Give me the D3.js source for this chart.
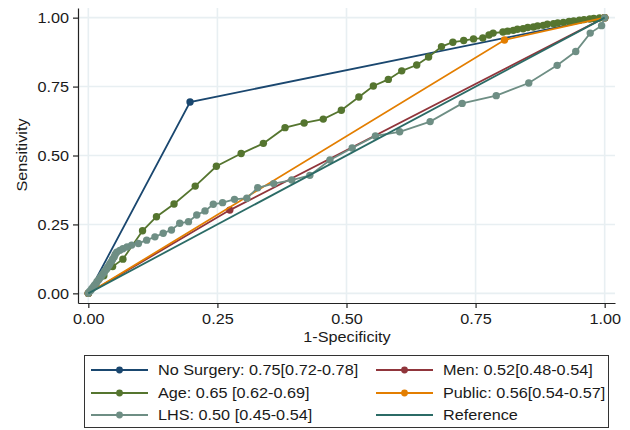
<!DOCTYPE html>
<html>
<meta charset="utf-8">
<script src="https://d3js.org/d3.v7.min.js"></script>
<style>
  body { margin: 0; background: #fff; }
  text { font-family: "Liberation Sans", Arial, sans-serif; fill: #1a1a1a; }
</style>
<body>
<div id="roc"></div>
<script>
// ROC curves, values (1-specificity, sensitivity)
var noSurgeryX = [0, 0.197, 1];
var noSurgeryY = [0, 0.694, 1];

var menX = [0, 0.274, 1];
var menY = [0, 0.302, 1];

var publicX = [0, 0.806, 1];
var publicY = [0, 0.919, 1];

var ageX = [0, 0.014, 0.03, 0.047, 0.067, 0.105, 0.132, 0.166, 0.207, 0.248, 0.296, 0.339,
  0.381, 0.418, 0.455, 0.490, 0.524, 0.552, 0.581, 0.607, 0.636, 0.659, 0.684, 0.706,
  0.727, 0.746, 0.764, 0.776, 0.784, 0.803, 0.812, 0.823, 0.831, 0.842, 0.851, 0.862,
  0.87, 0.881, 0.889, 0.901, 0.909, 0.92, 0.931, 0.94, 0.951, 0.96, 0.971, 0.979, 0.99, 1];
var ageY = [0, 0.03, 0.064, 0.097, 0.124, 0.227, 0.278, 0.324, 0.389, 0.461, 0.507, 0.544,
  0.601, 0.618, 0.632, 0.664, 0.712, 0.752, 0.776, 0.807, 0.828, 0.857, 0.895, 0.911,
  0.917, 0.923, 0.926, 0.937, 0.944, 0.948, 0.951, 0.954, 0.958, 0.96, 0.964, 0.966,
  0.97, 0.972, 0.976, 0.978, 0.981, 0.983, 0.986, 0.988, 0.991, 0.993, 0.995, 0.997, 0.999, 1];

var lhsX = [0, 0.002, 0.005, 0.007, 0.01, 0.012, 0.015, 0.017, 0.02, 0.022, 0.025, 0.027,
  0.03, 0.032, 0.035, 0.037, 0.04, 0.042, 0.045, 0.047, 0.05, 0.052, 0.055, 0.061,
  0.067, 0.075, 0.084, 0.097, 0.113, 0.129, 0.145, 0.161, 0.177, 0.194,
  0.210, 0.226, 0.242, 0.260, 0.283, 0.307, 0.328, 0.359, 0.394, 0.429, 0.468, 0.511,
  0.556, 0.603, 0.662, 0.724, 0.790, 0.853, 0.908, 0.944, 0.972, 0.994, 1];
var lhsY = [0, 0.006, 0.011, 0.018, 0.024, 0.03, 0.036, 0.043, 0.049, 0.055, 0.061, 0.068,
  0.074, 0.081, 0.087, 0.094, 0.101, 0.108, 0.116, 0.124, 0.132, 0.141, 0.149, 0.156,
  0.162, 0.168, 0.175, 0.181, 0.193, 0.205, 0.218, 0.230, 0.254, 0.260,
  0.284, 0.299, 0.323, 0.329, 0.341, 0.345, 0.383, 0.398, 0.411, 0.428, 0.484, 0.527,
  0.571, 0.586, 0.623, 0.689, 0.717, 0.763, 0.827, 0.877, 0.944, 0.971, 1];

var refX = [0, 1];
var refY = [0, 1];

var tickVals = [0, 0.25, 0.5, 0.75, 1];

var legendLabels = ["No Surgery: 0.75[0.72-0.78]", "Men: 0.52[0.48-0.54]",
  "Age: 0.65 [0.62-0.69]", "Public: 0.56[0.54-0.57]",
  "LHS: 0.50 [0.45-0.54]", "Reference"];

function pts(xs, ys) { return xs.map(function(v, i) { return [v, ys[i]]; }); }

// drawing order follows the legend (row by row), reference last
var series = [
  {name: legendLabels[0], data: pts(noSurgeryX, noSurgeryY), color: "#1a476f", marker: true},
  {name: legendLabels[1], data: pts(menX, menY), color: "#90353b", marker: true},
  {name: legendLabels[2], data: pts(ageX, ageY), color: "#55752f", marker: true},
  {name: legendLabels[3], data: pts(publicX, publicY), color: "#e37e00", marker: true},
  {name: legendLabels[4], data: pts(lhsX, lhsY), color: "#6e8e84", marker: true},
  {name: legendLabels[5], data: pts(refX, refY), color: "#2b6b66", marker: false}
];

var W = 630, H = 430;
var FS = "14.5px", SX = 1.12;   // text in the picture is a little wider than tall
var svg = d3.select("#roc").append("svg")
    .attr("width", W)
    .attr("height", H);

var x = d3.scaleLinear().domain([-0.02, 1.02]).range([78, 615]);
var y = d3.scaleLinear().domain([-0.035, 1.035]).range([303, 8]);

// grid
svg.append("g").selectAll("line.gx")
  .data(tickVals).enter().append("line")
    .attr("x1", function(d) { return x(d); })
    .attr("x2", function(d) { return x(d); })
    .attr("y1", y.range()[1]).attr("y2", y.range()[0])
    .attr("stroke", "#e8eff2").attr("stroke-width", 1.6);
svg.append("g").selectAll("line.gy")
  .data(tickVals).enter().append("line")
    .attr("y1", function(d) { return y(d); })
    .attr("y2", function(d) { return y(d); })
    .attr("x1", x.range()[0]).attr("x2", x.range()[1])
    .attr("stroke", "#e8eff2").attr("stroke-width", 1.6);

// axes
var fmt = d3.format(".2f");
var xAxis = svg.append("g")
    .attr("transform", "translate(0," + y.range()[0] + ")")
    .call(d3.axisBottom(x).tickValues(tickVals).tickFormat(fmt).tickSize(5).tickSizeOuter(0));
var yAxis = svg.append("g")
    .attr("transform", "translate(" + x.range()[0] + ",0)")
    .call(d3.axisLeft(y).tickValues(tickVals).tickFormat(fmt).tickSize(5).tickSizeOuter(0));

[xAxis, yAxis].forEach(function(a) {
  a.select(".domain").attr("stroke", "#222").attr("stroke-width", 1.2);
  a.selectAll(".tick line").attr("stroke", "#222").attr("stroke-width", 1.2);
  a.selectAll(".tick text")
    .style("font-family", '"Liberation Sans", Arial, sans-serif')
    .style("font-size", FS)
    .attr("fill", "#1a1a1a");
});
xAxis.selectAll(".tick text")
    .attr("y", 0).attr("dy", "0.75em")
    .attr("transform", "translate(0,10) scale(" + SX + ",1)");
yAxis.selectAll(".tick text")
    .attr("x", 0)
    .attr("transform", "translate(-9,0) scale(" + SX + ",1)");

svg.append("text")
    .attr("transform", "translate(347,342) scale(" + SX + ",1)")
    .attr("text-anchor", "middle")
    .style("font-size", FS)
    .text("1-Specificity");
svg.append("text")
    .attr("transform", "translate(27,155) rotate(-90) scale(" + SX + ",1)")
    .attr("text-anchor", "middle")
    .style("font-size", FS)
    .text("Sensitivity");

// curves
var line = d3.line()
    .x(function(d) { return x(d[0]); })
    .y(function(d) { return y(d[1]); });

var plot = svg.append("g");
series.forEach(function(s) {
  var g = plot.append("g");
  g.append("path")
    .datum(s.data)
    .attr("d", line)
    .attr("fill", "none")
    .attr("stroke", s.color)
    .attr("stroke-width", 1.8);
  if (s.marker) {
    g.selectAll("circle")
      .data(s.data).enter().append("circle")
        .attr("cx", function(d) { return x(d[0]); })
        .attr("cy", function(d) { return y(d[1]); })
        .attr("r", 3.7)
        .attr("fill", s.color);
  }
});

// legend
var leg = svg.append("g");
leg.append("rect")
    .attr("x", 84.5).attr("y", 355.5)
    .attr("width", 524).attr("height", 72)
    .attr("fill", "#fff")
    .attr("stroke", "#333").attr("stroke-width", 1);

var colX = [91, 376];
var rowY = [370, 393, 415];
series.forEach(function(s, i) {
  var cx = colX[i % 2], cy = rowY[Math.floor(i / 2)];
  var item = leg.append("g").attr("transform", "translate(" + cx + "," + cy + ")");
  item.append("line")
    .attr("x1", 0).attr("x2", 57)
    .attr("y1", 0).attr("y2", 0)
    .attr("stroke", s.color).attr("stroke-width", 1.8);
  if (s.marker) {
    item.append("circle").attr("cx", 28.5).attr("cy", 0).attr("r", 3.4).attr("fill", s.color);
  }
  item.append("text")
    .attr("transform", "translate(67,0) scale(" + SX + ",1)")
    .attr("dy", "0.35em")
    .style("font-size", FS)
    .text(s.name);
});
</script>
</body>
</html>
